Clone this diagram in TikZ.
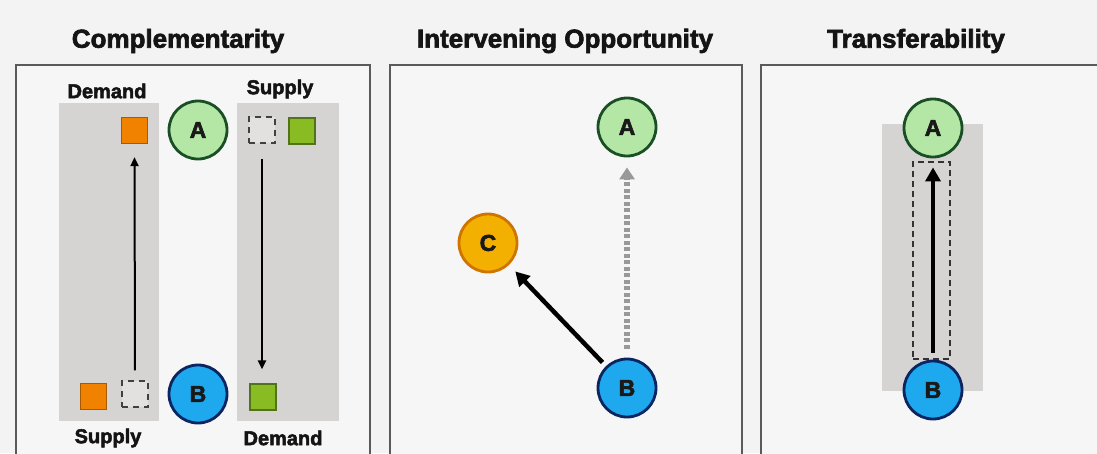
\documentclass[tikz,border=0pt]{standalone}
\usepackage{fontspec}
\setmainfont{Liberation Sans}
\newfontfamily\heavyfont{Liberation Sans}[UprightFont=*-Bold, FakeBold=2.5]
\usetikzlibrary{arrows.meta}
\definecolor{bgc}{HTML}{F3F3F3}
\definecolor{panelc}{HTML}{F6F6F6}
\definecolor{framec}{HTML}{5A5A5A}
\definecolor{stripc}{HTML}{D6D4D2}
\definecolor{afill}{HTML}{B4E6A6}
\definecolor{aline}{HTML}{1A4F25}
\definecolor{bfill}{HTML}{1EA8EE}
\definecolor{bline}{HTML}{0A2560}
\definecolor{cfill}{HTML}{F4B000}
\definecolor{cline}{HTML}{D07400}
\definecolor{osq}{HTML}{F08200}
\definecolor{osqline}{HTML}{A85A00}
\definecolor{gsq}{HTML}{88BC22}
\definecolor{gsqline}{HTML}{52731A}
\definecolor{dotc}{HTML}{999999}
\begin{document}
\begin{tikzpicture}[x=1pt,y=-1pt,
  title/.style={font=\heavyfont\fontsize{26}{28}\selectfont, text=black!92, inner sep=0pt},
  lbl/.style={font=\heavyfont\fontsize{20}{22}\selectfont, text=black!92, inner sep=0pt},
  place/.style={circle, minimum size=58pt, inner sep=0pt, line width=2.8pt, font=\heavyfont\fontsize{23}{25}\selectfont, text=black!90},
  placeA/.style={place, fill=afill, draw=aline},
  placeB/.style={place, fill=bfill, draw=bline},
  placeC/.style={place, fill=cfill, draw=cline},
  sq/.style={rectangle, minimum size=26pt, inner sep=0pt, line width=1.2pt},
  osquare/.style={sq, fill=osq, draw=osqline},
  gsquare/.style={sq, fill=gsq, draw=gsqline},
  esquare/.style={sq, fill=stripc!70!white, draw=black!75, line width=1.5pt, dash pattern=on 6pt off 5pt},
  frame/.style={draw=framec, line width=2pt, fill=panelc},
  strip/.style={fill=stripc},
  thinarrow/.style={-{Triangle[length=9pt,width=8pt]}, line width=2pt},
  thickarrow/.style={-{Triangle[length=14pt,width=15pt]}, line width=4.5pt},
  dotarrow/.style={-{Triangle[length=12pt,width=15pt]}, draw=dotc, line width=5.5pt, dash pattern=on 4pt off 2.5pt},
]
\useasboundingbox (0,0) rectangle (1097,453);
\clip (0,0) rectangle (1097,453);
\fill[bgc] (0,0) rectangle (1097,453);

% panels
\draw[frame] (16,65) rectangle (370,470);
\draw[frame] (390,65) rectangle (742,470);
\draw[frame] (761,65) rectangle (1110,470);

% titles
\node[title] (t1) at (178,41) {Complementarity};
\node[title] (t2) at (565,41) {Intervening Opportunity};
\node[title] (t3) at (916,41) {Transferability};

% ---------- Complementarity ----------
\fill[strip] (59,103) rectangle (159,421);
\fill[strip] (237,103) rectangle (339,421);

\node[lbl] (dem1) at (107,91) {Demand};
\node[lbl] (sup1) at (280,89) {Supply};
\node[lbl] (sup2) at (108,438) {Supply};
\node[lbl] (dem2) at (283,438) {Demand};

\node[placeA] (A1) at (198,130) {A};
\node[placeB] (B1) at (198,394) {B};

\node[osquare] (o1) at (134.5,130.5) {};
\node[osquare] (o2) at (93.5,396.5) {};
\node[esquare] (e1) at (135,394) {};
\node[esquare] (e2) at (262,130) {};
\node[gsquare] (g1) at (302,131) {};
\node[gsquare] (g2) at (263,397) {};

\draw[thinarrow, shorten <=10pt, shorten >=13pt] (e1.north) -- (o1.south);
\draw[thinarrow, shorten <=15pt, shorten >=14pt] (e2.south) -- (e2.south |- g2.north);

% ---------- Intervening Opportunity ----------
\node[placeA] (A2) at (627,127) {A};
\node[placeC] (C2) at (488,243) {C};
\node[placeB] (B2) at (627,388) {B};

\draw[dotarrow, shorten <=9pt, shorten >=10pt] (B2.north) -- (A2.south);
\draw[thickarrow, shorten <=5pt, shorten >=9pt] (B2) -- (C2);

% ---------- Transferability ----------
\fill[strip] (882,124) rectangle (983,391);
\node[placeA] (A3) at (933,128) {A};
\node[placeB] (B3) at (933,390) {B};
\node[draw=black!80, line width=1.5pt, dash pattern=on 6pt off 4pt, minimum width=37pt, minimum height=197pt, inner sep=0pt] (R3) at (931.5,260.5) {};
\draw[thickarrow, shorten <=7pt, shorten >=9pt] (B3.north) -- (A3.south);
\end{tikzpicture}
\end{document}
